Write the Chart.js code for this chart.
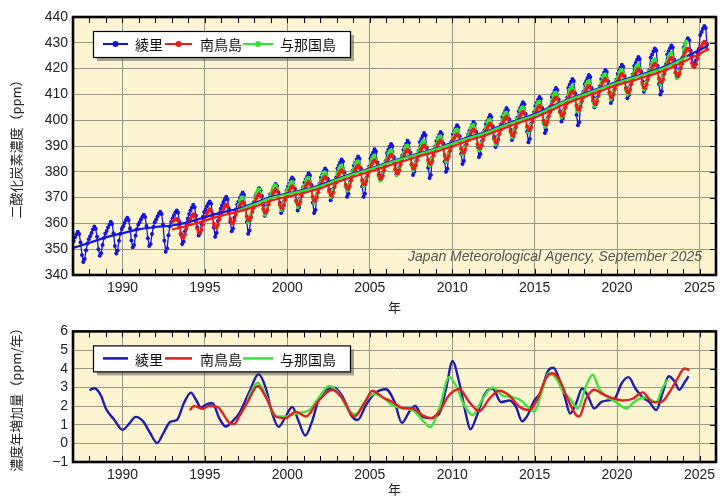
<!DOCTYPE html>
<html>
<head>
<meta charset="utf-8">
<title>大気中の二酸化炭素濃度と年増加量</title>
<script src="https://cdn.jsdelivr.net/npm/chart.js@4/dist/chart.umd.min.js"></script>
<style>
  html, body { margin: 0; padding: 0; background: #fff; }
  #wrap { position: relative; width: 724px; height: 500px; }
  #topBox { position: absolute; left: 0; top: 0; width: 724px; height: 318px; }
  #bottomBox { position: absolute; left: 0; top: 318px; width: 724px; height: 182px; }
</style>
</head>
<body>
<div id="wrap">
  <div id="topBox"><canvas id="concChart"></canvas></div>
  <div id="bottomBox"><canvas id="rateChart"></canvas></div>
</div>
<script>
// ---- axis ranges and tick labels ----
const xMin = 1987, xMax = 2026;
const yearTicks = [1990, 1995, 2000, 2005, 2010, 2015, 2020, 2025];
const concTicks = [340, 350, 360, 370, 380, 390, 400, 410, 420, 430, 440];
const rateTicks = [-1, 0, 1, 2, 3, 4, 5, 6];
const stations = ['綾里', '南鳥島', '与那国島'];

// ---- monthly mean CO2 (ppm); first value is January of the start year ----
const ryoriStart = 1987;
const ryoriMonthly = [
  353.2, 354.6, 355.8, 356.8, 355.9, 352.6, 347.8, 345.0, 346.2, 349.6, 352.2, 353.9,
  355.0, 356.3, 357.6, 358.8, 357.9, 354.8, 350.0, 347.5, 348.4, 351.6, 354.3, 356.0,
  357.1, 358.4, 359.6, 360.6, 359.8, 356.2, 351.2, 348.3, 349.5, 353.3, 356.0, 357.8,
  358.9, 360.2, 361.3, 362.2, 361.3, 358.0, 353.4, 350.8, 351.6, 355.2, 357.8, 359.5,
  360.4, 361.6, 362.6, 363.4, 362.5, 359.0, 354.2, 351.2, 352.0, 355.9, 358.6, 360.4,
  361.5, 362.7, 363.7, 364.5, 363.6, 359.6, 353.3, 349.0, 350.4, 355.4, 358.8, 360.6,
  362.0, 363.2, 364.2, 365.0, 364.1, 360.6, 355.8, 352.0, 353.0, 357.0, 359.9, 361.8,
  363.6, 365.0, 366.2, 367.2, 366.3, 363.0, 358.5, 355.3, 356.2, 359.8, 362.5, 364.4,
  365.4, 366.6, 367.7, 368.5, 367.6, 363.6, 358.4, 354.8, 356.3, 360.9, 363.9, 365.7,
  367.0, 368.3, 369.4, 370.3, 369.3, 365.7, 360.5, 357.0, 358.0, 362.3, 365.4, 367.3,
  368.5, 369.9, 371.0, 372.0, 371.0, 366.6, 360.5, 356.0, 357.2, 362.5, 365.9, 368.0,
  370.1, 371.3, 372.5, 373.6, 372.8, 370.6, 367.0, 363.0, 364.2, 366.8, 369.7, 371.2,
  371.8, 373.0, 374.2, 375.3, 374.5, 372.1, 368.0, 364.0, 365.2, 368.3, 371.2, 372.7,
  374.3, 375.5, 376.7, 377.8, 377.0, 373.4, 369.0, 365.0, 366.2, 369.6, 372.5, 374.0,
  375.9, 377.1, 378.3, 379.4, 378.6, 374.9, 368.0, 364.0, 365.2, 371.1, 374.0, 375.5,
  377.8, 379.0, 380.2, 381.3, 380.5, 377.2, 373.0, 369.0, 370.2, 373.4, 376.3, 377.8,
  381.3, 382.5, 383.7, 384.8, 384.0, 379.8, 374.3, 370.3, 371.5, 376.0, 378.9, 380.4,
  382.4, 383.6, 384.8, 385.9, 385.1, 381.4, 374.3, 370.3, 371.5, 377.6, 380.5, 382.0,
  385.2, 386.4, 387.6, 388.7, 387.9, 383.6, 381.5, 377.5, 378.7, 379.8, 382.7, 384.2,
  387.3, 388.5, 389.7, 390.8, 390.0, 385.6, 383.0, 379.0, 380.2, 381.8, 384.7, 386.2,
  388.5, 389.7, 390.9, 392.0, 391.2, 387.5, 382.8, 378.8, 380.0, 383.7, 386.6, 388.1,
  391.5, 392.7, 393.9, 395.0, 394.2, 389.2, 381.6, 377.6, 378.8, 385.4, 388.3, 389.8,
  391.9, 393.1, 394.3, 395.4, 394.6, 391.1, 384.0, 380.0, 381.2, 387.3, 390.2, 391.7,
  394.5, 395.7, 396.9, 398.0, 397.2, 393.8, 387.0, 383.0, 384.2, 390.0, 392.9, 394.4,
  395.8, 397.0, 398.2, 399.3, 398.5, 395.5, 389.7, 385.7, 386.9, 391.7, 394.6, 396.1,
  398.5, 399.7, 400.9, 402.0, 401.2, 397.7, 393.6, 389.6, 390.8, 393.9, 396.8, 398.3,
  401.2, 402.4, 403.6, 404.7, 403.9, 400.4, 396.3, 392.3, 393.5, 396.6, 399.5, 401.0,
  403.5, 404.7, 405.9, 407.0, 406.2, 402.4, 395.5, 391.5, 392.7, 398.6, 401.5, 403.0,
  405.5, 406.7, 407.9, 409.0, 408.2, 404.7, 399.0, 395.0, 396.2, 400.9, 403.8, 405.3,
  409.0, 410.2, 411.4, 412.5, 411.7, 408.0, 403.5, 399.5, 400.7, 404.2, 407.1, 408.6,
  412.5, 413.7, 414.9, 416.0, 415.2, 410.4, 402.0, 398.0, 399.2, 406.6, 409.5, 411.0,
  414.0, 415.2, 416.4, 417.5, 416.7, 412.5, 409.0, 405.0, 406.2, 408.7, 411.6, 413.1,
  416.0, 417.2, 418.4, 419.5, 418.7, 415.1, 410.7, 406.7, 407.9, 411.3, 414.2, 415.7,
  418.0, 419.2, 420.4, 421.5, 420.7, 417.1, 412.5, 408.5, 409.7, 413.3, 416.2, 417.7,
  421.0, 422.2, 423.4, 424.5, 423.7, 418.9, 415.0, 411.0, 412.2, 415.1, 418.0, 419.5,
  424.3, 425.5, 426.7, 427.8, 427.0, 421.0, 414.0, 410.0, 411.2, 417.2, 420.1, 421.6,
  425.5, 426.7, 427.9, 429.0, 428.2, 423.5, 420.5, 416.5, 417.7, 419.7, 422.6, 424.1,
  428.3, 429.5, 430.7, 431.8, 431.0, 427.0, 425.0, 421.0, 422.2, 423.2, 426.1, 427.6,
  433.0, 434.2, 435.4, 436.5, 435.7, 429.3
];

const minamiStart = 1993;
const minamiMonthly = [
  360.9, 361.2, 361.6, 361.8, 361.1, 358.9, 356.2, 354.6, 354.6, 355.7, 357.9, 359.5,
  360.6, 361.9, 362.9, 363.5, 362.8, 360.6, 357.9, 356.5, 356.3, 357.4, 359.6, 361.2,
  362.6, 363.9, 364.9, 365.5, 364.8, 362.6, 359.9, 358.5, 358.3, 359.4, 361.6, 363.2,
  364.4, 365.7, 366.7, 367.3, 366.6, 364.4, 361.7, 360.3, 360.1, 361.2, 363.4, 365.0,
  365.5, 366.8, 367.8, 368.4, 367.7, 365.5, 362.8, 361.4, 361.2, 362.3, 364.5, 366.1,
  368.4, 369.7, 370.7, 371.3, 370.6, 368.4, 365.7, 364.3, 364.1, 365.2, 367.4, 369.0,
  370.2, 371.5, 372.5, 373.1, 372.4, 370.2, 367.5, 366.1, 365.9, 367.0, 369.2, 370.8,
  371.5, 372.8, 373.8, 374.4, 373.7, 371.5, 368.8, 367.4, 367.2, 368.3, 370.5, 372.1,
  373.1, 374.4, 375.4, 376.0, 375.3, 373.1, 370.4, 369.0, 368.8, 369.9, 372.1, 373.7,
  375.2, 376.5, 377.5, 378.1, 377.4, 375.2, 372.5, 371.1, 370.9, 372.0, 374.2, 375.8,
  377.7, 379.0, 380.0, 380.6, 379.9, 377.7, 375.0, 373.6, 373.4, 374.5, 376.7, 378.3,
  379.5, 380.8, 381.8, 382.4, 381.7, 379.5, 376.8, 375.4, 375.2, 376.3, 378.5, 380.1,
  381.6, 382.9, 383.9, 384.5, 383.8, 381.6, 378.9, 377.5, 377.3, 378.4, 380.6, 382.2,
  383.7, 385.0, 386.0, 386.6, 385.9, 383.7, 381.0, 379.6, 379.4, 380.5, 382.7, 384.3,
  385.6, 386.9, 387.9, 388.5, 387.8, 385.6, 382.9, 381.5, 381.3, 382.4, 384.6, 386.2,
  387.4, 388.7, 389.7, 390.3, 389.6, 387.4, 384.7, 383.3, 383.1, 384.2, 386.4, 388.0,
  389.2, 390.5, 391.5, 392.1, 391.4, 389.2, 386.5, 385.1, 384.9, 386.0, 388.2, 389.8,
  391.7, 393.0, 394.0, 394.6, 393.9, 391.7, 389.0, 387.6, 387.4, 388.5, 390.7, 392.3,
  393.5, 394.8, 395.8, 396.4, 395.7, 393.5, 390.8, 389.4, 389.2, 390.3, 392.5, 394.1,
  395.7, 397.0, 398.0, 398.6, 397.9, 395.7, 393.0, 391.6, 391.4, 392.5, 394.7, 396.3,
  398.4, 399.7, 400.7, 401.3, 400.6, 398.4, 395.7, 394.3, 394.1, 395.2, 397.4, 399.0,
  400.4, 401.7, 402.7, 403.3, 402.6, 400.4, 397.7, 396.3, 396.1, 397.2, 399.4, 401.0,
  402.6, 403.9, 404.9, 405.5, 404.8, 402.6, 399.9, 398.5, 398.3, 399.4, 401.6, 403.2,
  406.0, 407.3, 408.3, 408.9, 408.2, 406.0, 403.3, 401.9, 401.7, 402.8, 405.0, 406.6,
  408.4, 409.7, 410.7, 411.3, 410.6, 408.4, 405.7, 404.3, 404.1, 405.2, 407.4, 409.0,
  410.5, 411.8, 412.8, 413.4, 412.7, 410.5, 407.8, 406.4, 406.2, 407.3, 409.5, 411.1,
  413.2, 414.5, 415.5, 416.1, 415.4, 413.2, 410.5, 409.1, 408.9, 410.0, 412.2, 413.8,
  415.0, 416.3, 417.3, 417.9, 417.2, 415.0, 412.3, 410.9, 410.7, 411.8, 414.0, 415.6,
  416.9, 418.2, 419.2, 419.8, 419.1, 416.9, 414.2, 412.8, 412.6, 413.7, 415.9, 417.5,
  419.0, 420.3, 421.3, 421.9, 421.2, 419.0, 416.3, 414.9, 414.7, 415.8, 418.0, 419.6,
  421.3, 422.6, 423.6, 424.2, 423.5, 421.3, 418.6, 417.2, 417.0, 418.1, 420.3, 421.9,
  424.9, 426.2, 427.2, 427.8, 427.1, 424.9, 422.2, 420.8, 420.6, 421.7, 423.9, 425.5,
  427.5, 428.8, 429.8, 430.4, 429.7, 427.5
];

const yonaguniStart = 1997;
const yonaguniMonthly = [
  367.1, 368.9, 369.9, 370.1, 368.7, 365.6, 362.2, 360.4, 361.1, 363.3, 365.9, 367.6,
  370.1, 371.9, 372.9, 373.1, 371.7, 368.6, 365.2, 363.4, 364.1, 366.3, 368.9, 370.6,
  371.8, 373.6, 374.6, 374.8, 373.4, 370.3, 366.9, 365.1, 365.8, 368.0, 370.6, 372.3,
  373.1, 374.9, 375.9, 376.1, 374.7, 371.6, 368.2, 366.4, 367.1, 369.3, 371.9, 373.6,
  374.7, 376.5, 377.5, 377.7, 376.3, 373.2, 369.8, 368.0, 368.7, 370.9, 373.5, 375.2,
  376.8, 378.6, 379.6, 379.8, 378.4, 375.3, 371.9, 370.1, 370.8, 373.0, 375.6, 377.3,
  379.4, 381.2, 382.2, 382.4, 381.0, 377.9, 374.5, 372.7, 373.4, 375.6, 378.2, 379.9,
  381.1, 382.9, 383.9, 384.1, 382.7, 379.6, 376.2, 374.4, 375.1, 377.3, 379.9, 381.6,
  383.2, 385.0, 386.0, 386.2, 384.8, 381.7, 378.3, 376.5, 377.2, 379.4, 382.0, 383.7,
  385.3, 387.1, 388.1, 388.3, 386.9, 383.8, 380.4, 378.6, 379.3, 381.5, 384.1, 385.8,
  387.2, 389.0, 390.0, 390.2, 388.8, 385.7, 382.3, 380.5, 381.2, 383.4, 386.0, 387.7,
  389.0, 390.8, 391.8, 392.0, 390.6, 387.5, 384.1, 382.3, 383.0, 385.2, 387.8, 389.5,
  390.8, 392.6, 393.6, 393.8, 392.4, 389.3, 385.9, 384.1, 384.8, 387.0, 389.6, 391.3,
  393.4, 395.2, 396.2, 396.4, 395.0, 391.9, 388.5, 386.7, 387.4, 389.6, 392.2, 393.9,
  395.1, 396.9, 397.9, 398.1, 396.7, 393.6, 390.2, 388.4, 389.1, 391.3, 393.9, 395.6,
  397.3, 399.1, 400.1, 400.3, 398.9, 395.8, 392.4, 390.6, 391.3, 393.5, 396.1, 397.8,
  400.0, 401.8, 402.8, 403.0, 401.6, 398.5, 395.1, 393.3, 394.0, 396.2, 398.8, 400.5,
  402.0, 403.8, 404.8, 405.0, 403.6, 400.5, 397.1, 395.3, 396.0, 398.2, 400.8, 402.5,
  404.2, 406.0, 407.0, 407.2, 405.8, 402.7, 399.3, 397.5, 398.2, 400.4, 403.0, 404.7,
  407.7, 409.5, 410.5, 410.7, 409.3, 406.2, 402.8, 401.0, 401.7, 403.9, 406.5, 408.2,
  410.1, 411.9, 412.9, 413.1, 411.7, 408.6, 405.2, 403.4, 404.1, 406.3, 408.9, 410.6,
  412.1, 413.9, 414.9, 415.1, 413.7, 410.6, 407.2, 405.4, 406.1, 408.3, 410.9, 412.6,
  414.8, 416.6, 417.6, 417.8, 416.4, 413.3, 409.9, 408.1, 408.8, 411.0, 413.6, 415.3,
  416.6, 418.4, 419.4, 419.6, 418.2, 415.1, 411.7, 409.9, 410.6, 412.8, 415.4, 417.1,
  418.5, 420.3, 421.3, 421.5, 420.1, 417.0, 413.6, 411.8, 412.5, 414.7, 417.3, 419.0,
  420.6, 422.4, 423.4, 423.6, 422.2, 419.1, 415.7, 413.9, 414.6, 416.8, 419.4, 421.1,
  423.0, 424.8, 425.8, 426.0, 424.6, 421.5, 418.1, 416.3, 417.0, 419.2, 421.8, 423.5,
  427.7, 429.5, 430.5
];

// ---- long-term trend (ppm) as [year, value] ----
const ryoriTrend = [
  [1987, 350.5], [1988, 352.5], [1989, 354.6], [1990, 356.2], [1991, 357.7], [1992, 358.6],
  [1993, 359.2], [1994, 360.5], [1995, 362.4], [1996, 364.2], [1997, 365.7], [1998, 367.9],
  [1999, 370.2], [2000, 371.6], [2001, 373.0], [2002, 374.9], [2003, 377.3], [2004, 379.4],
  [2005, 381.3], [2006, 383.4], [2007, 385.4], [2008, 387.2], [2009, 389.0], [2010, 391.3],
  [2011, 393.5], [2012, 395.4], [2013, 397.9], [2014, 400.2], [2015, 402.4], [2016, 405.2],
  [2017, 408.0], [2018, 410.3], [2019, 412.6], [2020, 414.9], [2021, 416.8], [2022, 418.8],
  [2023, 421.1], [2024, 424.1], [2025, 427.2], [2025.5, 428.8]
];
const minamiTrend = [
  [1993, 357.6], [1994, 359.2], [1995, 361.1], [1996, 363.0], [1997, 364.5], [1998, 366.4],
  [1999, 368.8], [2000, 370.3], [2001, 371.8], [2002, 373.6], [2003, 376.0], [2004, 378.1],
  [2005, 380.0], [2006, 382.1], [2007, 384.1], [2008, 386.0], [2009, 387.8], [2010, 389.9],
  [2011, 392.1], [2012, 394.1], [2013, 396.5], [2014, 398.9], [2015, 401.0], [2016, 403.8],
  [2017, 406.7], [2018, 409.0], [2019, 411.3], [2020, 413.6], [2021, 415.4], [2022, 417.4],
  [2023, 419.6], [2024, 422.6], [2025, 425.7], [2025.5, 427.5]
];
const yonaguniTrend = [
  [1997, 365.0], [1998, 367.4], [1999, 369.8], [2000, 371.3], [2001, 372.7], [2002, 374.5],
  [2003, 376.9], [2004, 379.1], [2005, 381.0], [2006, 383.1], [2007, 385.1], [2008, 386.9],
  [2009, 388.7], [2010, 390.9], [2011, 393.1], [2012, 395.0], [2013, 397.5], [2014, 399.8],
  [2015, 401.9], [2016, 404.8], [2017, 407.7], [2018, 409.9], [2019, 412.3], [2020, 414.5],
  [2021, 416.4], [2022, 418.4], [2023, 420.6], [2024, 423.8], [2024.25, 424.8]
];

// ---- annual growth rate (ppm/year) as [year, value] ----
const ryoriRate = [
  [1988.0, 2.85], [1988.3, 2.95], [1988.7, 2.55], [1989.0, 1.85], [1989.5, 1.27], [1990.0, 0.72],
  [1990.45, 1.1], [1990.8, 1.42], [1991.25, 1.18], [1991.66, 0.58], [1992.1, 0.02], [1992.5, 0.58],
  [1992.9, 1.15], [1993.3, 1.25], [1993.75, 2.2], [1994.15, 2.72], [1994.45, 2.35], [1994.76, 1.92],
  [1995.16, 2.12], [1995.46, 2.15], [1995.87, 1.35], [1996.27, 0.9], [1996.67, 1.18], [1997.08, 1.6],
  [1997.69, 2.75], [1998.25, 3.7], [1998.7, 2.95], [1999.1, 1.55], [1999.47, 0.88], [1999.9, 1.44],
  [2000.3, 1.95], [2000.68, 1.2], [2001.09, 0.42], [2001.5, 1.18], [2001.9, 2.35], [2002.34, 2.85],
  [2002.85, 2.98], [2003.35, 2.5], [2003.86, 1.52], [2004.26, 1.25], [2004.77, 2.05], [2005.27, 2.65],
  [2005.98, 2.9], [2006.49, 2.25], [2006.95, 1.1], [2007.4, 1.7], [2007.76, 2.0], [2008.17, 1.45],
  [2008.65, 1.35], [2009.22, 1.6], [2009.62, 2.9], [2010.02, 4.4], [2010.43, 3.25], [2010.84, 1.52],
  [2011.1, 0.75], [2011.48, 1.44], [2011.95, 2.6], [2012.45, 2.94], [2012.96, 2.21], [2013.47, 2.3],
  [2013.87, 1.96], [2014.24, 1.18], [2014.58, 1.52], [2014.98, 2.3], [2015.39, 2.76], [2015.79, 3.85],
  [2016.14, 4.05], [2016.5, 3.42], [2016.86, 2.39], [2017.15, 1.6], [2017.51, 2.13], [2017.88, 2.94],
  [2018.22, 2.56], [2018.62, 1.87], [2019.03, 2.21], [2019.43, 2.3], [2019.84, 2.39], [2020.3, 3.25],
  [2020.7, 3.55], [2021.11, 2.94], [2021.55, 2.47], [2021.96, 2.21], [2022.37, 1.78], [2022.77, 2.73],
  [2023.13, 3.6], [2023.48, 3.33], [2023.78, 2.87], [2024.08, 3.25], [2024.34, 3.6]
];
const minamiRate = [
  [1994.08, 1.78], [1994.35, 2.0], [1994.85, 1.85], [1995.26, 2.0], [1995.6, 1.98], [1995.87, 1.88],
  [1996.27, 1.35], [1996.55, 1.05], [1996.78, 1.04], [1997.08, 1.44], [1997.59, 2.21], [1998.2, 3.07],
  [1998.7, 2.47], [1999.3, 1.44], [1999.9, 1.35], [2000.5, 1.7], [2001.13, 1.44], [2001.83, 2.21],
  [2002.74, 2.87], [2003.35, 2.39], [2004.06, 1.44], [2004.67, 2.13], [2005.17, 2.82], [2005.78, 2.47],
  [2006.38, 2.21], [2006.99, 1.9], [2007.6, 1.87], [2008.17, 1.52], [2008.71, 1.35], [2009.22, 1.7],
  [2009.82, 2.59], [2010.43, 2.9], [2011.04, 2.21], [2011.65, 1.73], [2012.25, 2.39], [2012.86, 2.82],
  [2013.47, 2.56], [2014.07, 1.96], [2014.68, 1.78], [2015.18, 2.39], [2015.69, 3.5], [2016.09, 3.76],
  [2016.5, 3.42], [2017.0, 2.39], [2017.51, 1.52], [2017.71, 1.44], [2018.12, 2.39], [2018.62, 2.87],
  [2019.13, 2.64], [2019.73, 2.42], [2020.34, 2.3], [2020.95, 2.39], [2021.55, 2.73], [2022.16, 2.21],
  [2022.67, 2.21], [2023.17, 2.73], [2023.68, 3.5], [2024.08, 4.01], [2024.38, 3.93]
];
const yonaguniRate = [
  [1997.6, 2.4], [1998.2, 3.25], [1998.7, 2.56], [1999.3, 1.44], [1999.9, 1.44], [2000.6, 1.61],
  [2001.33, 1.78], [2001.94, 2.47], [2002.54, 3.07], [2003.15, 2.64], [2003.76, 1.7], [2004.16, 1.56],
  [2004.67, 2.21], [2005.27, 2.64], [2005.78, 2.47], [2006.38, 2.04], [2006.99, 1.87], [2007.6, 1.78],
  [2008.17, 1.27], [2008.65, 0.87], [2009.22, 1.87], [2009.82, 3.56], [2010.23, 3.07], [2010.73, 2.04],
  [2011.24, 1.52], [2011.85, 2.39], [2012.45, 2.99], [2013.06, 2.56], [2013.67, 2.47], [2014.18, 2.3],
  [2014.68, 1.87], [2014.98, 1.7], [2015.39, 2.64], [2015.85, 3.76], [2016.3, 3.5], [2016.7, 2.82],
  [2017.15, 2.39], [2017.61, 1.87], [2018.12, 3.07], [2018.52, 3.68], [2018.93, 2.9], [2019.43, 2.47],
  [2019.94, 2.21], [2020.55, 1.87], [2021.15, 2.3], [2021.76, 2.47], [2022.37, 2.21], [2022.77, 2.99],
  [2023.07, 3.42]
];

// ---- styling ----
const plotBg = '#fdf5d2';
const gridColor = '#9a978a';
const topColors = ['#1414e0', '#ec1a1a', '#2ee62e'];
const rateColors = ['#1c1cb0', '#e21f1f', '#3ee23e'];
const latinFont = '"Liberation Sans", Arial, sans-serif';
const cjkFont = '"Noto Sans CJK JP", "Noto Sans", sans-serif';

const monthly = (start, vals) => vals.map((v, i) => ({ x: start + (i + 0.5) / 12, y: v }));
const pairs = arr => arr.map(([x, y]) => ({ x, y }));

// plot background, frame and inner tick marks
const framePlugin = {
  id: 'frame',
  beforeDraw(chart) {
    const { ctx, chartArea: a } = chart;
    ctx.save();
    ctx.fillStyle = plotBg;
    ctx.fillRect(a.left, a.top, a.right - a.left, a.bottom - a.top);
    ctx.restore();
  },
  afterDatasetsDraw(chart) {
    const { ctx, chartArea: a, scales } = chart;
    const x = scales.x, y = scales.y;
    ctx.save();
    ctx.strokeStyle = '#000';
    ctx.lineWidth = 1;
    ctx.beginPath();
    for (let yr = Math.ceil(x.min); yr <= x.max; yr++) {
      const px = Math.round(x.getPixelForValue(yr)) + 0.5;
      ctx.moveTo(px, a.top); ctx.lineTo(px, a.top + 6);
      ctx.moveTo(px, a.bottom); ctx.lineTo(px, a.bottom - 6);
    }
    y.ticks.forEach(t => {
      const py = Math.round(y.getPixelForValue(t.value)) + 0.5;
      ctx.moveTo(a.right, py); ctx.lineTo(a.right - 6, py);
    });
    ctx.stroke();
    ctx.lineWidth = 2.6;
    ctx.strokeRect(a.left, a.top, a.right - a.left, a.bottom - a.top);
    ctx.restore();
  }
};

// boxed legend with a drop shadow
function drawLegend(chart, withDots) {
  const { ctx, chartArea: a } = chart;
  const left = a.left + 20, top = a.top + 14, w = 257, h = 26;
  const lines = [[10, 35], [72, 99], [150, 180]];
  const textX = [42, 107, 187];
  const colors = chart.data.datasets.slice(0, 3).map(d => d.borderColor);
  ctx.save();
  ctx.fillStyle = 'rgba(60,60,60,0.45)';
  ctx.fillRect(left + 4, top + 4, w, h);
  ctx.fillStyle = '#fff';
  ctx.fillRect(left, top, w, h);
  ctx.strokeStyle = '#000';
  ctx.lineWidth = 1.2;
  ctx.strokeRect(left + 0.5, top + 0.5, w, h);
  const cy = top + h / 2;
  stations.forEach((name, i) => {
    ctx.strokeStyle = colors[i];
    ctx.lineWidth = withDots ? 2 : 2.6;
    ctx.beginPath();
    ctx.moveTo(left + lines[i][0], cy);
    ctx.lineTo(left + lines[i][1], cy);
    ctx.stroke();
    if (withDots) {
      ctx.fillStyle = colors[i];
      ctx.beginPath();
      ctx.arc(left + (lines[i][0] + lines[i][1]) / 2, cy, 3, 0, Math.PI * 2);
      ctx.fill();
    }
    ctx.fillStyle = '#111';
    ctx.font = '14px ' + cjkFont;
    ctx.textBaseline = 'middle';
    ctx.textAlign = 'left';
    ctx.fillText(name, left + textX[i], cy + 1);
  });
  ctx.restore();
}

const concLegend = {
  id: 'concLegend',
  afterDraw(chart) {
    drawLegend(chart, true);
    const { ctx, chartArea: a } = chart;
    ctx.save();
    ctx.font = 'italic 14px ' + latinFont;
    ctx.fillStyle = '#555';
    ctx.textAlign = 'right';
    ctx.textBaseline = 'middle';
    ctx.fillText('Japan Meteorological Agency, September 2025', a.right - 14, a.bottom - 18);
    ctx.restore();
  }
};
const rateLegend = {
  id: 'rateLegend',
  afterDraw(chart) { drawLegend(chart, false); }
};

function xScale(height) {
  return {
    type: 'linear', min: xMin, max: xMax,
    afterBuildTicks: s => { s.ticks = yearTicks.map(v => ({ value: v })); },
    afterFit: s => { s.height = height; },
    grid: { color: gridColor, lineWidth: 1, drawTicks: false },
    border: { display: false },
    ticks: { autoSkip: false, padding: 5, color: '#222', font: { family: latinFont, size: 14 }, maxRotation: 0, callback: v => String(v) },
    title: { display: true, text: '年', color: '#222', font: { family: cjkFont, size: 13 }, padding: { top: 0, bottom: 3 } }
  };
}
function yScale(min, max, ticks, titleText) {
  return {
    type: 'linear', min, max,
    afterBuildTicks: s => { s.ticks = ticks.map(v => ({ value: v })); },
    afterFit: s => { s.width = 73; },
    grid: { color: gridColor, lineWidth: 1, drawTicks: false },
    border: { display: false },
    ticks: { autoSkip: false, padding: 5, color: '#222', font: { family: latinFont, size: 14 }, callback: v => String(v).replace('-', '\u2212') },
    title: { display: true, text: titleText, color: '#222', font: { family: cjkFont, size: 13 }, padding: { top: 8, bottom: 0 } }
  };
}

const commonOpts = {
  responsive: true, maintainAspectRatio: false, animation: false, devicePixelRatio: 1,
  plugins: { legend: { display: false }, tooltip: { enabled: false } },
  events: []
};

// concentration chart (monthly means and trends)
const dataLine = (label, data, color, order) => ({
  label, data, borderColor: color, backgroundColor: color, borderWidth: 1.3,
  pointRadius: 2, pointBorderWidth: 0, pointBackgroundColor: color, tension: 0, order
});
const trendLine = (label, data, color, order) => ({
  label, data, borderColor: color, borderWidth: 2.2, pointRadius: 0,
  cubicInterpolationMode: 'monotone', order
});

new Chart(document.getElementById('concChart'), {
  type: 'line',
  data: {
    datasets: [
      dataLine(stations[0], monthly(ryoriStart, ryoriMonthly), topColors[0], 6),
      dataLine(stations[1], monthly(minamiStart, minamiMonthly), topColors[1], 4),
      dataLine(stations[2], monthly(yonaguniStart, yonaguniMonthly), topColors[2], 5),
      trendLine(stations[0] + ' trend', pairs(ryoriTrend), topColors[0], 3),
      trendLine(stations[2] + ' trend', pairs(yonaguniTrend), topColors[2], 2),
      trendLine(stations[1] + ' trend', pairs(minamiTrend), topColors[1], 1)
    ]
  },
  options: Object.assign({}, commonOpts, {
    layout: { padding: { top: 17, right: 8, left: 0, bottom: 0 } },
    scales: {
      x: xScale(43),
      y: yScale(340, 440, concTicks, '二酸化炭素濃度（ppm）')
    }
  }),
  plugins: [framePlugin, concLegend]
});

// growth-rate chart
const rateLine = (label, data, color, order) => ({
  label, data, borderColor: color, borderWidth: 2.4, pointRadius: 0,
  cubicInterpolationMode: 'monotone', order
});

new Chart(document.getElementById('rateChart'), {
  type: 'line',
  data: {
    datasets: [
      rateLine(stations[0], pairs(ryoriRate), rateColors[0], 3),
      rateLine(stations[1], pairs(minamiRate), rateColors[1], 1),
      rateLine(stations[2], pairs(yonaguniRate), rateColors[2], 2)
    ]
  },
  options: Object.assign({}, commonOpts, {
    layout: { padding: { top: 8, right: 8, left: 0, bottom: 0 } },
    scales: {
      x: xScale(38),
      y: yScale(-1, 6, rateTicks, '濃度年増加量（ppm/年）')
    }
  }),
  plugins: [framePlugin, rateLegend]
});
</script>
</body>
</html>
